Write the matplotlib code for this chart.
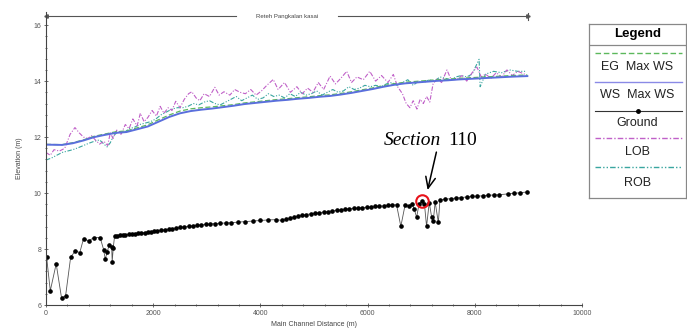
import matplotlib
matplotlib.use("Agg")
import matplotlib.pyplot as plt
from matplotlib.lines import Line2D

plt.rcParams['font.family'] = ['Liberation Sans', 'DejaVu Sans']

# ---- data ----
ground_x = [10, 80, 190, 290, 365, 460, 550, 630, 700, 800, 890, 1010, 1075, 1105,
            1145, 1175, 1225, 1235, 1255, 1280, 1330, 1380, 1430, 1480, 1540, 1600,
            1660, 1720, 1780, 1840, 1900, 1960, 2020, 2080, 2150, 2220, 2290, 2360,
            2430, 2500, 2580, 2660, 2740, 2820, 2900, 2980, 3060, 3150, 3250, 3350,
            3450, 3580, 3720, 3860, 4000, 4150, 4300, 4400, 4480, 4550, 4620, 4700,
            4780, 4860, 4940, 5020, 5100, 5180, 5260, 5340, 5420, 5500, 5580, 5660,
            5740, 5820, 5900, 5980, 6060, 6140, 6220, 6300, 6380, 6460, 6540, 6620,
            6700, 6780, 6830, 6870, 6915, 6960, 7020, 7060, 7100, 7150, 7195, 7225,
            7260, 7320, 7350, 7450, 7550, 7650, 7750, 7850, 7950, 8050, 8150, 8250,
            8350, 8450, 8620, 8730, 8840, 8980]
ground_y = [7.73, 6.51, 7.47, 6.25, 6.32, 7.71, 7.94, 7.87, 8.37, 8.29, 8.41, 8.41, 7.98, 7.64,
            7.91, 8.13, 8.09, 7.55, 8.05, 8.47, 8.48, 8.49, 8.50, 8.51, 8.52, 8.53,
            8.54, 8.56, 8.57, 8.59, 8.61, 8.62, 8.64, 8.66, 8.67, 8.69, 8.71, 8.73,
            8.75, 8.77, 8.79, 8.81, 8.83, 8.85, 8.86, 8.88, 8.89, 8.91, 8.92, 8.93,
            8.94, 8.96, 8.98, 9.00, 9.02, 9.04, 9.05, 9.02, 9.06, 9.10, 9.14, 9.17,
            9.20, 9.23, 9.26, 9.28, 9.30, 9.32, 9.34, 9.36, 9.38, 9.40, 9.42, 9.44,
            9.45, 9.46, 9.48, 9.49, 9.50, 9.52, 9.53, 9.54, 9.56, 9.57, 9.58, 8.81,
            9.58, 9.55, 9.60, 9.43, 9.13, 9.62, 9.70, 9.62, 8.81, 9.66, 9.14, 8.99,
            9.68, 8.95, 9.76, 9.78, 9.80, 9.82, 9.84, 9.86, 9.88, 9.89, 9.90, 9.92,
            9.93, 9.94, 9.97, 9.99, 10.01, 10.04]

ws_x = [0, 300, 500, 700, 900, 1100, 1300, 1500, 1700, 1900, 2100, 2300, 2500, 2700,
        2900, 3100, 3300, 3500, 3700, 3900, 4100, 4300, 4500, 4700, 4900, 5100, 5300,
        5500, 5700, 5900, 6100, 6300, 6500, 6700, 6900, 7100, 7300, 7500, 7700, 7900,
        8100, 8300, 8500, 8700, 8980]
ws_y = [11.73, 11.72, 11.78, 11.88, 12.00, 12.08, 12.15, 12.18, 12.28, 12.38, 12.55, 12.72,
        12.85, 12.93, 12.98, 13.02, 13.07, 13.12, 13.18, 13.22, 13.26, 13.30, 13.33,
        13.37, 13.40, 13.44, 13.47, 13.52, 13.58, 13.65, 13.72, 13.80, 13.87, 13.92,
        13.95, 13.98, 14.01, 14.03, 14.06, 14.08, 14.10, 14.12, 14.14, 14.16, 14.18]
eg_y = [11.74, 11.73, 11.80, 11.90, 12.03, 12.11, 12.19, 12.22, 12.33, 12.44, 12.62, 12.79,
        12.93, 13.01, 13.05, 13.08, 13.12, 13.16, 13.22, 13.26, 13.30, 13.34, 13.37,
        13.41, 13.44, 13.48, 13.51, 13.56, 13.62, 13.69, 13.76, 13.84, 13.91, 13.96,
        13.99, 14.02, 14.05, 14.07, 14.10, 14.12, 14.14, 14.16, 14.18, 14.20, 14.22]

lob_x = [0, 80, 150, 250, 350, 450, 540, 620, 700, 780, 850, 920, 1000, 1080, 1150, 1200,
         1250, 1320, 1400, 1480, 1550, 1620, 1700, 1760, 1830, 1900, 1980, 2060, 2130,
         2200, 2280, 2350, 2420, 2500, 2580, 2660, 2720, 2800, 2870, 2950, 3050, 3150,
         3230, 3320, 3430, 3520, 3620, 3720, 3820, 3920, 4020, 4120, 4240, 4330, 4450,
         4560, 4680, 4780, 4880, 4980, 5080, 5180, 5300, 5400, 5500, 5610, 5700, 5800,
         5920, 6040, 6150, 6260, 6380, 6480, 6560, 6650, 6720, 6790, 6850, 6920, 6980,
         7040, 7100, 7160, 7220, 7300, 7380, 7480, 7560, 7670, 7760, 7850, 7950, 8040,
         8120, 8200, 8300, 8400, 8500, 8600, 8700, 8800, 8940]
lob_y = [11.45, 11.35, 11.55, 11.50, 11.60, 12.10, 12.34, 12.15, 12.00, 11.95, 12.05, 11.90,
         11.75, 11.85, 11.70, 12.15, 11.95, 12.25, 12.10, 12.45, 12.30, 12.65, 12.40,
         12.85, 12.55, 12.70, 12.95, 12.75, 13.10, 12.85, 13.05, 12.95, 13.28, 13.05,
         13.35, 13.55, 13.62, 13.40, 13.30, 13.55, 13.45, 13.78, 13.50, 13.62, 13.50,
         13.70, 13.60, 13.55, 13.70, 13.50, 13.65, 13.85, 14.06, 13.70, 13.95, 13.60,
         13.80, 13.55, 13.75, 13.60, 13.95, 13.70, 14.18, 13.90, 14.10, 14.35, 13.95,
         14.15, 14.05, 14.35, 14.00, 14.20, 13.95, 14.24, 13.80, 13.55, 13.20, 13.05,
         13.30, 13.00, 13.35, 13.20, 13.45, 13.25, 13.89, 14.10, 13.95, 14.40, 14.05,
         14.06, 14.20, 14.00, 14.30, 14.50, 14.15, 14.25, 14.10, 14.30, 14.15, 14.40,
         14.20, 14.35, 14.24]

rob_x = [0, 100, 200, 300, 400, 500, 600, 700, 800, 900, 1000, 1080, 1140, 1200, 1260,
         1350, 1450, 1550, 1650, 1750, 1850, 1950, 2050, 2150, 2250, 2350, 2450, 2550,
         2650, 2750, 2850, 2950, 3050, 3150, 3250, 3350, 3450, 3550, 3650, 3750, 3850,
         3950, 4050, 4150, 4250, 4350, 4450, 4550, 4650, 4750, 4850, 4950, 5050, 5150,
         5250, 5350, 5450, 5550, 5650, 5750, 5850, 5950, 6050, 6150, 6250, 6350, 6450,
         6550, 6650, 6750, 6850, 6950, 7050, 7150, 7250, 7350, 7450, 7550, 7650, 7750,
         7850, 7950, 8080, 8100, 8200, 8350, 8500, 8650, 8800, 8940]
rob_y = [11.18, 11.25, 11.35, 11.45, 11.50, 11.55, 11.62, 11.70, 11.78, 11.85, 11.90, 11.75,
         11.65, 11.80, 12.05, 12.20, 12.15, 12.30, 12.35, 12.45, 12.50, 12.55, 12.65,
         12.80, 12.90, 13.00, 13.05, 13.05, 13.10, 13.20, 13.15, 13.25, 13.30, 13.20,
         13.15, 13.25, 13.35, 13.45, 13.30, 13.40, 13.50, 13.35, 13.40, 13.55, 13.45,
         13.50, 13.40, 13.55, 13.45, 13.60, 13.50, 13.55, 13.65, 13.50, 13.60, 13.70,
         13.60, 13.65, 13.80, 13.70, 13.75, 13.85, 13.80, 13.85, 13.80, 13.90, 13.95,
         13.85, 13.95, 14.05, 13.85, 14.00, 13.95, 14.05, 14.00, 14.15, 14.10, 14.05,
         14.15, 14.20, 14.15, 14.25, 14.78, 13.80, 14.25, 14.35, 14.30, 14.40, 14.35,
         14.35]

reach_name = "Reteh Pangkalan kasai"
reach_start, reach_end = 0, 9000
section_x, section_y = 7020, 9.70

legend_names = ["EG  Max WS", "WS  Max WS", "Ground", "LOB", "ROB"]

c_eg = '#5cb85c'
c_ws = '#5a6fdc'
c_lob = '#c060c8'
c_rob = '#3aa6a0'

fig = plt.figure(figsize=(6.87, 3.32), dpi=100)
ax = fig.add_axes([46 / 687, 1 - 305 / 332, 536 / 687, 293 / 332])

ax.plot(rob_x, rob_y, color=c_rob, lw=0.8, dashes=[4, 1.5, 1, 1.5, 1, 1.5])
ax.plot(lob_x, lob_y, color=c_lob, lw=0.8, dashes=[4, 1.5, 1, 1.5])
ax.plot(ws_x, eg_y, color=c_eg, lw=0.9, dashes=[4, 2])
ax.plot(ws_x, ws_y, color=c_ws, lw=1.4)
ax.plot(ground_x, ground_y, color='#555555', lw=0.6, marker='o', ms=2.3,
        mfc='black', mec='black')

ax.set_xlim(0, 10000)
ax.set_ylim(6, 16.47)
ax.set_xticks([0, 2000, 4000, 6000, 8000, 10000])
ax.set_yticks([6, 8, 10, 12, 14, 16])
ax.set_xticks(range(0, 10001, 400), minor=True)
ax.set_yticks([6 + 0.4 * i for i in range(26)], minor=True)
for s in ['top', 'right']:
    ax.spines[s].set_visible(False)
for s in ['left', 'bottom']:
    ax.spines[s].set_color('#444444')
    ax.spines[s].set_linewidth(0.8)
ax.tick_params(which='both', direction='inout', colors='#555555', labelsize=5,
               length=2.5, width=0.6, pad=2)
ax.tick_params(which='minor', length=1.8)
ax.set_xlabel("Main Channel Distance (m)", fontsize=5, color='#444444', labelpad=3)
ax.set_ylabel("Elevation (m)", fontsize=5, color='#444444', labelpad=8)

# reach line at the top
ry = 16.32
ax.plot([reach_start, 3550], [ry, ry], color='#555555', lw=0.8, clip_on=False)
ax.plot([5450, reach_end], [ry, ry], color='#555555', lw=0.8, clip_on=False)
ax.plot([reach_end, reach_end], [ry - 0.12, ry + 0.12], color='#555555', lw=0.8, clip_on=False)
ax.plot([reach_start], [ry], marker='<', ms=2.5, color='#555555', clip_on=False)
ax.plot([reach_end], [ry], marker='>', ms=2.5, color='#555555', clip_on=False)
ax.text((reach_start + reach_end) / 2, ry, reach_name, fontsize=4.3, color='#444444',
        ha='center', va='center')

# section annotation
ax.plot([section_x], [section_y], marker='o', ms=9, mfc='none', mec='#e8121a', mew=1.5)
ax.annotate("", xy=(7108, 10.01), xytext=(7295, 11.56),
            arrowprops=dict(arrowstyle='->,head_length=0.8,head_width=0.35', color='black', lw=1.1))
fig.text(384 / 687, 1 - 145 / 332, "Section", fontsize=14, family='Liberation Serif',
         fontstyle='italic', ha='left', va='baseline')
fig.text(448 / 687, 1 - 145 / 332, "110", fontsize=14, family='Liberation Serif',
         ha='left', va='baseline')

# legend box
lg = fig.add_axes([589 / 687, 1 - 198 / 332, 97 / 687, 174 / 332])
lg.set_xlim(0, 1)
lg.set_ylim(0, 1)
lg.set_xticks([])
lg.set_yticks([])
for s in lg.spines.values():
    s.set_color('#888888')
    s.set_linewidth(0.9)
lg.text(0.5, 0.943, "Legend", fontsize=9.5, fontweight='bold', ha='center', va='center')
lg.axhline(0.879, color='#888888', lw=0.9)
line_y = [0.833, 0.667, 0.5, 0.345, 0.178]
text_y = [0.753, 0.592, 0.431, 0.264, 0.086]
styles = [dict(color=c_eg, lw=1, dashes=[4, 2]),
          dict(color='#8a8ae6', lw=1),
          dict(color='#333333', lw=0.8),
          dict(color=c_lob, lw=1, dashes=[4, 1.5, 1, 1.5]),
          dict(color=c_rob, lw=1, dashes=[4, 1.5, 1, 1.5, 1, 1.5])]
for name, ly, ty, st in zip(legend_names, line_y, text_y, styles):
    lg.add_line(Line2D([0.06, 0.96], [ly, ly], **st))
    lg.text(0.5, ty, name, fontsize=9, ha='center', va='center', color='#222222')
lg.plot([0.5], [line_y[2]], marker='o', ms=2.5, color='black')

fig.savefig("out.png", dpi=100)
